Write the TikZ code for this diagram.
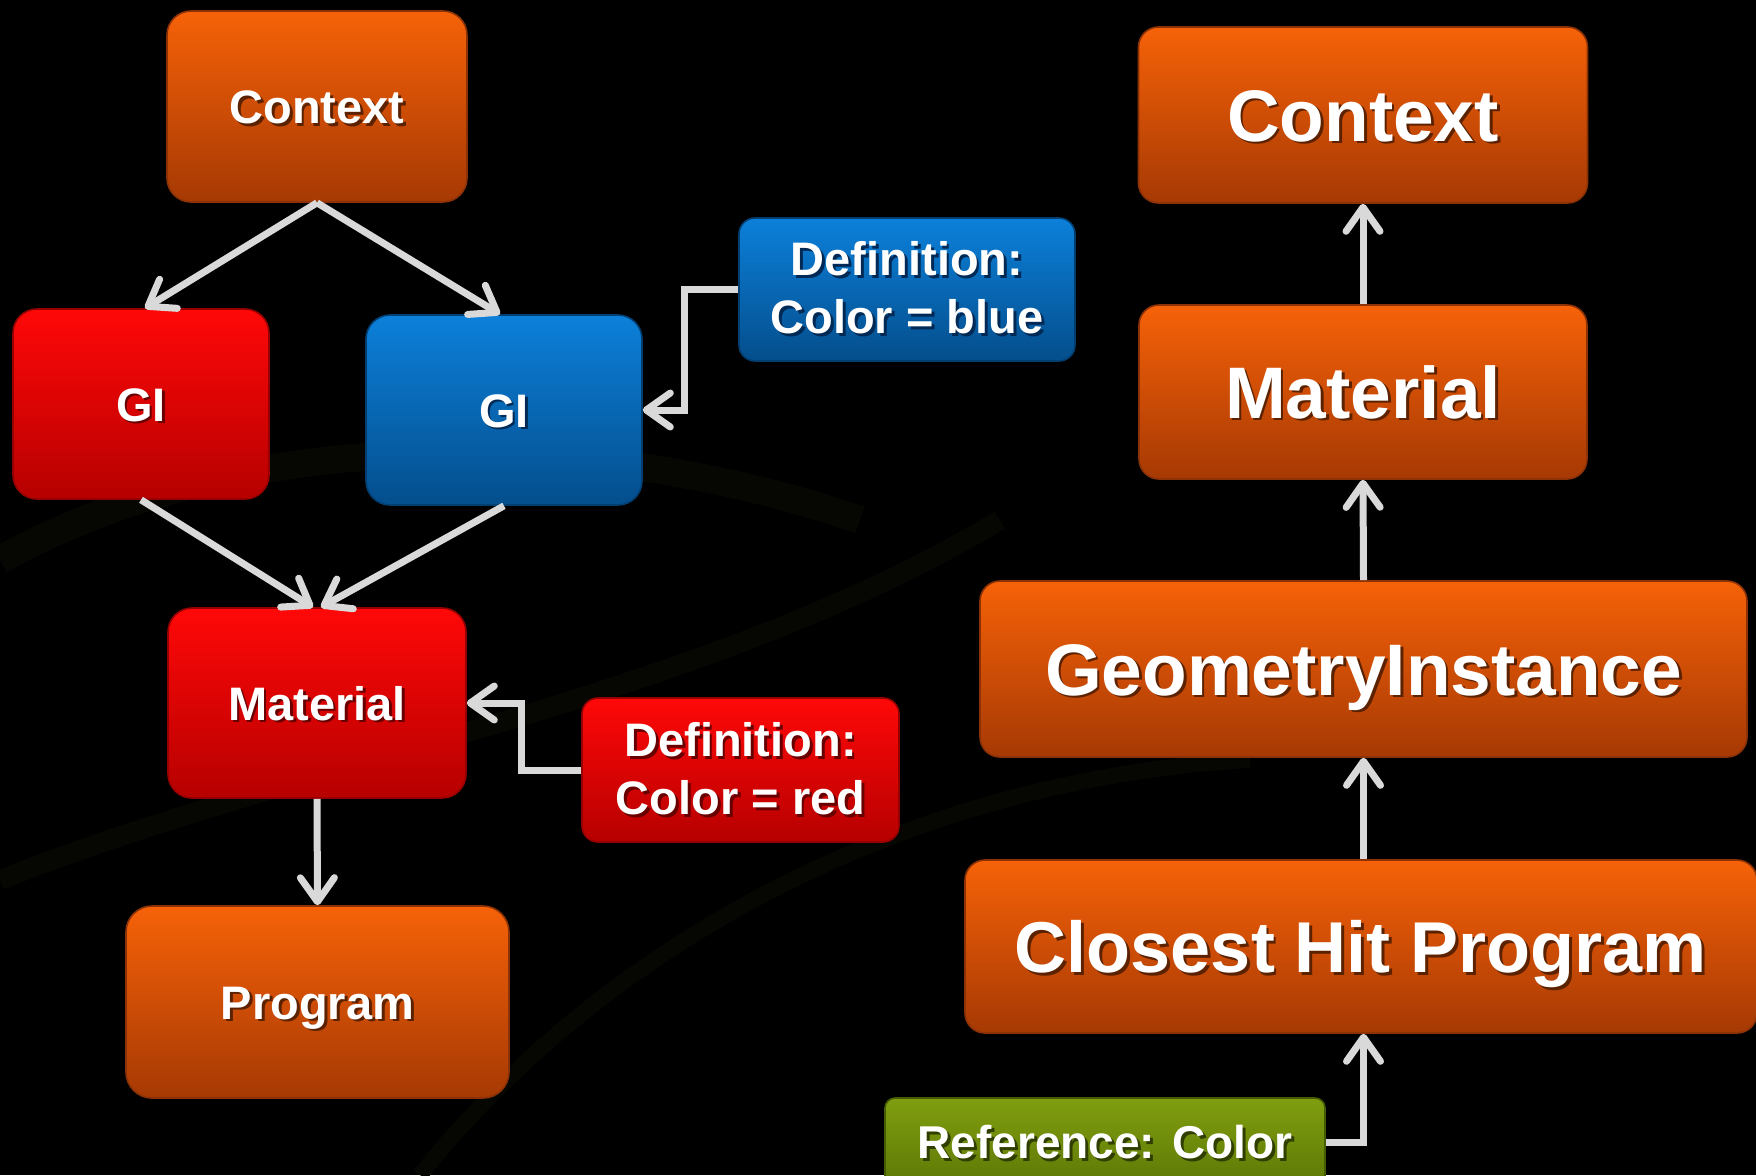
\documentclass[tikz,border=0pt]{standalone}
\usepackage{fontspec}
\setmainfont{Liberation Sans}
\usetikzlibrary{arrows.meta}

% box fills: top / bottom of the gradient, rim and text-shadow tones
\definecolor{orTop}{RGB}{246,98,8}
\definecolor{orBot}{RGB}{166,57,4}
\definecolor{orEdge}{RGB}{140,50,6}
\definecolor{orSh}{RGB}{92,34,0}
\definecolor{rdTop}{RGB}{255,8,8}
\definecolor{rdBot}{RGB}{182,0,0}
\definecolor{rdEdge}{RGB}{150,0,0}
\definecolor{rdSh}{RGB}{105,0,0}
\definecolor{blTop}{RGB}{12,128,218}
\definecolor{blBot}{RGB}{4,78,140}
\definecolor{blEdge}{RGB}{3,62,112}
\definecolor{blSh}{RGB}{0,42,85}
\definecolor{gnTop}{RGB}{128,158,16}
\definecolor{gnBot}{RGB}{94,120,5}
\definecolor{gnEdge}{RGB}{70,92,0}
\definecolor{gnSh}{RGB}{48,62,0}
\definecolor{wire}{RGB}{217,217,217}
\definecolor{swirl}{RGB}{6,7,2}
\colorlet{tsh}{black}

% white label with a small dark offset shadow
\newcommand\shd[1]{\leavevmode\rlap{\kern1.4pt\raisebox{-1.4pt}{\color{tsh}#1}}#1}

\tikzset{
  x=0.5pt, y=-0.5pt,
  sz/.style 2 args={minimum width={#1*0.5pt}, minimum height={#2*0.5pt}},
  card/.style={inner sep=0pt, text=white, align=center, line width=0.8pt},
  orbox/.style={card, top color=orTop, bottom color=orBot, draw=orEdge,
    execute at begin node={\colorlet{tsh}{orSh}}},
  rdbox/.style={card, top color=rdTop, bottom color=rdBot, draw=rdEdge,
    execute at begin node={\colorlet{tsh}{rdSh}}},
  blbox/.style={card, top color=blTop, bottom color=blBot, draw=blEdge,
    execute at begin node={\colorlet{tsh}{blSh}}},
  gnbox/.style={card, top color=gnTop, bottom color=gnBot, draw=gnEdge,
    execute at begin node={\colorlet{tsh}{gnSh}}},
  smalltxt/.style={font=\fontsize{23.5}{29}\selectfont\bfseries,
    text height=17pt, text depth=0pt},
  deftxt/.style={font=\fontsize{23.5}{29}\selectfont\bfseries},
  bigtxt/.style={font=\fontsize{36.5}{42}\selectfont\bfseries,
    text height=26pt, text depth=0pt},
  reftxt/.style={font=\fontsize{23}{27}\selectfont\bfseries,
    text height=16.5pt, text depth=0pt},
  conn/.style={draw=wire, line width=3.5pt,
    -{Straight Barb[length=12pt, width=17pt, round]}},
}

\begin{document}
\begin{tikzpicture}
  % backdrop with faint swirls
  \fill[black] (0,0) rectangle (1756,1175);
  \useasboundingbox (0,0) rectangle (1756,1175);
  \draw[swirl, line width=14pt] (0,560) .. controls (250,420) and (600,430) .. (860,520);
  \draw[swirl, line width=10pt] (0,880) .. controls (300,760) and (700,700) .. (1000,520);
  \draw[swirl, line width=8pt] (420,1175) .. controls (600,950) and (900,780) .. (1250,760);

  % left diagram
  \node[orbox, sz={300}{191}, rounded corners=12pt, smalltxt] (ctxL) at (317,106.5) {\shd{Context}};
  \node[rdbox, sz={256}{190}, rounded corners=12pt, smalltxt] (giR) at (141,404) {\shd{GI}};
  \node[blbox, sz={276}{190}, rounded corners=12pt, smalltxt] (giB) at (504,410) {\shd{GI}};
  \node[rdbox, sz={298}{190}, rounded corners=12pt, smalltxt] (matL) at (317,703) {\shd{Material}};
  \node[orbox, sz={383}{192}, rounded corners=13pt, smalltxt] (prog) at (317.5,1002) {\shd{Program}};
  \node[blbox, sz={336}{143}, rounded corners=8pt, deftxt] (defB) at (907,289.5)
    {\shd{Definition:}\\\shd{Color = blue}};
  \node[rdbox, sz={317}{144}, rounded corners=8pt, deftxt] (defR) at (740.5,770)
    {\shd{Definition:}\\\shd{Color = red}};

  % right column
  \node[orbox, sz={449}{176}, rounded corners=10pt, bigtxt] (ctxR) at (1363,115) {\shd{Context}};
  \node[orbox, sz={448}{174}, rounded corners=10pt, bigtxt] (matR) at (1363,392) {\shd{Material}};
  \node[orbox, sz={767}{176}, rounded corners=10pt, bigtxt] (geo) at (1363.5,669) {\shd{GeometryInstance}};
  \node[orbox, sz={792}{173}, rounded corners=10pt, bigtxt, font=\fontsize{36}{40}\selectfont\bfseries] (chp) at (1361,946.5) {\shd{Closest Hit Program}};
  \node[gnbox, sz={440}{88}, rounded corners=5pt, reftxt] (refc) at (1105,1142) {\shd{Reference: Color}};

  % connectors, left
  \draw[conn] (ctxL.south) -- ([xshift=2pt]giR.north);
  \draw[conn] (ctxL.south) -- ([xshift=-2pt]giB.north);
  \draw[conn] (giR.south) -- ([xshift=-2pt]matL.north);
  \draw[conn] (giB.south) -- ([xshift=2pt]matL.north);
  \draw[conn] (matL.south) -- (prog.north);
  \draw[conn] (defB.west) -- ++(-54,0) |- (giB.east);
  \draw[conn] (defR.west) -- ++(-60,0) |- (matL.east);

  % connectors, right
  \draw[conn] (matR.north) -- (ctxR.south);
  \draw[conn] (geo.north) -- (matR.south);
  \draw[conn] (chp.north -| geo.north) -- (geo.south);
  \draw[conn] (refc.east) -| (chp.south -| geo.south);
\end{tikzpicture}
\end{document}
